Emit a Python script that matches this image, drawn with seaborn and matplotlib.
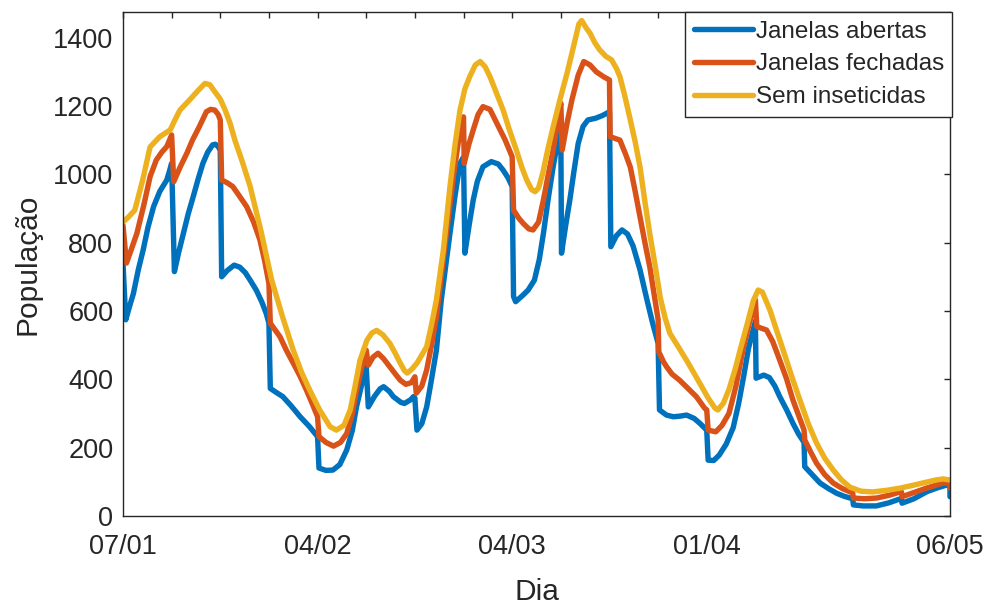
import pandas as pd
import numpy as np
import matplotlib.pyplot as plt
import seaborn as sns

# dias desde 07/01 e populacao (quedas semanais = dois pontos quase no mesmo dia)
dias_abertas = [0, 0.4, 0.9, 1.5, 2.2, 2.9, 3.6, 4.4, 5.3, 6.3, 6.7, 7.0,
                7.4, 8.0, 8.7, 9.4, 10.1, 10.8, 11.5, 12.2, 12.9, 13.3, 13.7, 14.0,
                14.2, 15.0, 16.0, 16.8, 17.6, 18.3, 19.2, 20.0, 20.6, 21.0,
                21.2, 22.0, 23.0, 24.2, 25.5, 26.8, 28.0,
                28.2, 29.2, 30.2, 31.2, 32.2, 33.0, 33.6, 34.3, 35.0,
                35.3, 36.2, 37.0, 37.5, 38.3, 38.9, 40.0, 40.5, 41.4, 41.8, 42.0,
                42.3, 43.0, 43.7, 44.4, 45.1, 45.8, 47.05, 47.8, 48.5, 49.0,
                49.2, 49.8, 50.4, 51.0, 51.8, 53.0, 54.0, 54.7, 55.4, 56.0,
                56.2, 56.5, 57.5, 58.3, 59.2, 59.9, 60.5, 61.2, 61.9, 62.5, 63.0,
                63.1, 63.7, 64.3, 64.9, 65.5, 66.2, 66.9, 68.0, 69.0, 70.0,
                70.2, 71.0, 71.8, 72.6, 73.4, 74.4, 75.4, 76.2, 77.0,
                77.2, 78.2, 79.2, 80.2, 81.1, 82.2, 83.0, 84.0,
                84.2, 85.0, 85.8, 86.8, 87.8, 88.6, 89.3, 90.0, 91.0,
                91.1, 92.2, 93.0, 93.8, 94.5, 95.5, 96.4, 97.2, 98.0,
                98.1, 99.3, 100.3, 101.5, 102.7, 103.8, 105.0,
                105.1, 106.5, 108.4, 110.2, 112.0,
                112.1, 113.8, 115.7, 117.2, 118.5, 119.0, 119.0]
pop_abertas = [740, 574, 610, 651, 720, 778, 845, 905, 950, 983, 1010, 1032,
               715, 770, 827, 885, 934, 985, 1032, 1065, 1086, 1088, 1081, 1070,
               700, 718, 734, 728, 712, 690, 660, 625, 593, 564,
               373, 362, 349, 322, 290, 262, 232,
               140, 133, 134, 150, 193, 250, 319, 380, 436,
               319, 350, 372, 378, 365, 349, 332, 329, 340, 349, 345,
               251, 270, 319, 400, 485, 632, 827, 940, 1032, 1050,
               769, 850, 925, 980, 1022, 1037, 1030, 1012, 990, 964,
               642, 627, 645, 661, 690, 750, 827, 930, 1022, 1090, 1130,
               769, 850, 925, 1010, 1090, 1140, 1159, 1164, 1172, 1183,
               788, 820, 837, 825, 790, 720, 632, 565, 505,
               310, 295, 290, 292, 295, 285, 271, 251,
               163, 162, 178, 210, 258, 330, 407, 490, 570,
               403, 412, 405, 380, 349, 310, 271, 240, 215,
               144, 118, 96, 80, 66, 57, 50,
               32, 29, 29, 38, 51,
               37, 50, 71, 82, 90, 92, 56]

dias_fechadas = [0, 0.5, 1.2, 2.0, 3.0, 3.9, 4.8, 5.6, 6.3, 7.0,
                 7.3, 8.2, 9.2, 10.0, 11.0, 12.0, 12.6, 13.2, 13.7, 14.0,
                 14.2, 15.0, 15.8, 16.8, 17.8, 18.8, 19.7, 20.4, 21.0,
                 21.2, 22.6, 23.5, 24.5, 25.5, 26.4, 27.2, 28.0,
                 28.2, 29.2, 30.3, 31.3, 32.2, 33.0, 33.6, 34.3, 35.0,
                 35.3, 36.0, 36.7, 37.5, 38.4, 39.2, 39.9, 40.7, 41.5, 42.0,
                 42.2, 43.0, 43.7, 44.4, 45.1, 46.1, 47.6, 48.3, 49.0,
                 49.1, 49.8, 50.4, 51.1, 51.8, 52.8, 53.8, 55.0, 56.0,
                 56.2, 57.0, 57.6, 58.4, 59.0, 59.8, 60.5, 61.2, 61.9, 62.5, 63.0,
                 63.2, 63.9, 64.6, 65.5, 66.3, 67.2, 68.1, 69.2, 70.0,
                 70.1, 71.5, 72.3, 73.0, 73.7, 74.4, 75.1, 75.8, 76.5, 77.0,
                 77.1, 77.8, 78.2, 79.0, 80.1, 81.2, 82.5, 83.7, 84.0,
                 84.2, 85.3, 86.2, 87.2, 88.2, 89.3, 90.2, 91.0,
                 91.2, 92.6, 93.5, 94.5, 95.5, 96.4, 97.3, 98.0,
                 98.1, 99.0, 99.8, 101.0, 102.2, 103.5, 105.0,
                 105.1, 106.7, 108.4, 110.2, 112.0,
                 112.1, 113.8, 115.6, 117.0, 118.0, 119.0, 119.0]
pop_fechadas = [851, 740, 780, 827, 910, 993, 1042, 1065, 1081, 1115,
                978, 1020, 1062, 1100, 1140, 1183, 1190, 1188, 1175, 1159,
                983, 975, 964, 935, 905, 860, 808, 745, 680,
                564, 524, 485, 447, 408, 368, 330, 290,
                232, 215, 204, 215, 241, 300, 368, 430, 485,
                441, 465, 476, 460, 436, 415, 397, 385, 390, 407,
                359, 380, 427, 500, 583, 755, 1003, 1100, 1168,
                1032, 1090, 1130, 1175, 1198, 1190, 1149, 1100, 1051,
                895, 870, 856, 840, 837, 860, 925, 1000, 1071, 1150, 1208,
                1071, 1150, 1218, 1290, 1330, 1320, 1300, 1285, 1276,
                1110, 1100, 1060, 1021, 950, 875, 800, 729, 640, 575,
                480, 450, 437, 415, 397, 375, 349, 315, 310,
                251, 246, 265, 300, 380, 495, 570, 632,
                554, 544, 510, 456, 400, 339, 290, 251,
                222, 185, 154, 120, 96, 80, 67,
                52, 50, 52, 60, 71,
                56, 68, 81, 90, 96, 96, 81]

dias_sem = [0, 0.8, 1.7, 2.8, 3.9, 5.3, 6.8, 7.5, 8.2, 9.6, 10.8, 11.8, 12.5, 13.2, 14.0,
            14.7, 15.4, 16.1, 17.2, 18.3, 19.9, 21.4, 23.0, 24.5, 25.7, 26.9, 28.3, 29.8,
            30.7, 31.8, 32.7, 33.4, 34.1, 35.1, 35.8, 36.5, 37.4, 38.4, 39.2, 39.9, 40.5,
            40.9, 41.6, 42.3, 43.7, 44.4, 45.1, 46.1, 47.05, 47.8, 48.5, 49.2, 49.9, 50.7,
            51.4, 52.1, 52.8, 53.7, 54.7, 55.6, 56.6, 57.4, 58.1, 58.8, 59.3, 59.8, 60.4,
            61.1, 61.9, 62.9, 63.9, 64.9, 65.6, 66.0, 66.6, 67.2, 67.9, 68.6, 69.5, 70.3,
            71.0, 71.5, 72.2, 72.9, 73.7, 74.4, 75.1, 75.8, 76.6, 77.3, 78.0, 78.7, 79.9,
            81.1, 82.1, 83.0, 84.2, 85.2, 85.6, 86.4, 87.2, 88.1, 88.8, 89.8, 90.7, 91.4,
            92.0, 93.1, 94.1, 95.0, 96.2, 97.4, 98.6, 99.8, 101.0, 102.2, 103.4, 104.6,
            106.2, 107.9, 110.0, 111.8, 113.8, 115.7, 117.0, 118.0, 119.0]
pop_sem = [860, 875, 895, 980, 1080, 1110, 1130, 1160, 1188, 1218, 1245, 1266, 1262, 1242, 1220,
           1188, 1150, 1100, 1035, 964, 830, 690, 580, 485, 420, 367, 310, 261,
           251, 265, 310, 380, 455, 514, 535, 543, 530, 505, 475, 447, 425,
           418, 430, 447, 495, 560, 632, 778, 964, 1090, 1188, 1250, 1286, 1320,
           1330, 1315, 1286, 1240, 1188, 1130, 1071, 1020, 983, 955, 949, 960, 1003,
           1070, 1139, 1220, 1296, 1380, 1440, 1450, 1430, 1413, 1385, 1364, 1345, 1335,
           1310, 1286, 1230, 1168, 1095, 1021, 920, 826, 730, 640, 580, 534, 495,
           455, 420, 388, 345, 315, 310, 330, 370, 430, 485, 560, 630, 661,
           655, 602, 540, 485, 410, 339, 270, 213, 168, 134, 105, 84,
           72, 70, 75, 81, 90, 99, 105, 108, 105]

series = ['Janelas abertas', 'Janelas fechadas', 'Sem inseticidas']
cores = ['#0072BD', '#D95319', '#EDB120']

tick_dias = list(range(0, 120, 7))
tick_rotulos = {0: '07/01', 28: '04/02', 56: '04/03', 84: '01/04', 119: '06/05'}

df = pd.concat([
    pd.DataFrame({'Dia': dias_abertas, 'Populacao': pop_abertas, 'serie': series[0]}),
    pd.DataFrame({'Dia': dias_fechadas, 'Populacao': pop_fechadas, 'serie': series[1]}),
    pd.DataFrame({'Dia': dias_sem, 'Populacao': pop_sem, 'serie': series[2]}),
], ignore_index=True)

sns.set_style('white')
plt.rcParams['font.family'] = ['Liberation Sans', 'DejaVu Sans']
plt.rcParams['lines.solid_joinstyle'] = 'round'
plt.rcParams['lines.solid_capstyle'] = 'round'

fig = plt.figure(figsize=(9.87, 6.07), dpi=100)
ax = fig.add_axes([0.1246, 0.1502, 0.8379, 0.830])

sns.lineplot(data=df, x='Dia', y='Populacao', hue='serie', hue_order=series, palette=cores,
             estimator=None, sort=False, linewidth=3.9, ax=ax)

ax.set_xlim(0, 119)
ax.set_ylim(0, 1475)
ax.set_xticks(tick_dias)
ax.set_xticklabels([tick_rotulos.get(d, '') for d in tick_dias])
ax.set_yticks(range(0, 1401, 200))

cinza = '#262626'
for s in ax.spines.values():
    s.set_color(cinza)
    s.set_linewidth(1.0)
ax.tick_params(direction='in', length=4, width=1.0, colors=cinza, labelsize=19.5,
               top=True, right=True, labelcolor=cinza)
ax.tick_params(axis='x', pad=13)
ax.tick_params(axis='y', pad=7)

ax.set_xlabel('Dia', fontsize=21.5, color=cinza, labelpad=13)
ax.set_ylabel('População', fontsize=21.5, color=cinza, labelpad=8)

leg = ax.legend(loc='upper right', bbox_to_anchor=(1.003, 1.0), borderaxespad=0, fancybox=False,
                edgecolor=cinza, framealpha=1, fontsize=17.5, handlelength=2.45, handletextpad=0.1,
                labelspacing=0.45, borderpad=0.35)
leg.get_frame().set_linewidth(1.0)
for t in leg.get_texts():
    t.set_color(cinza)

fig.savefig('out.png', dpi=100)
